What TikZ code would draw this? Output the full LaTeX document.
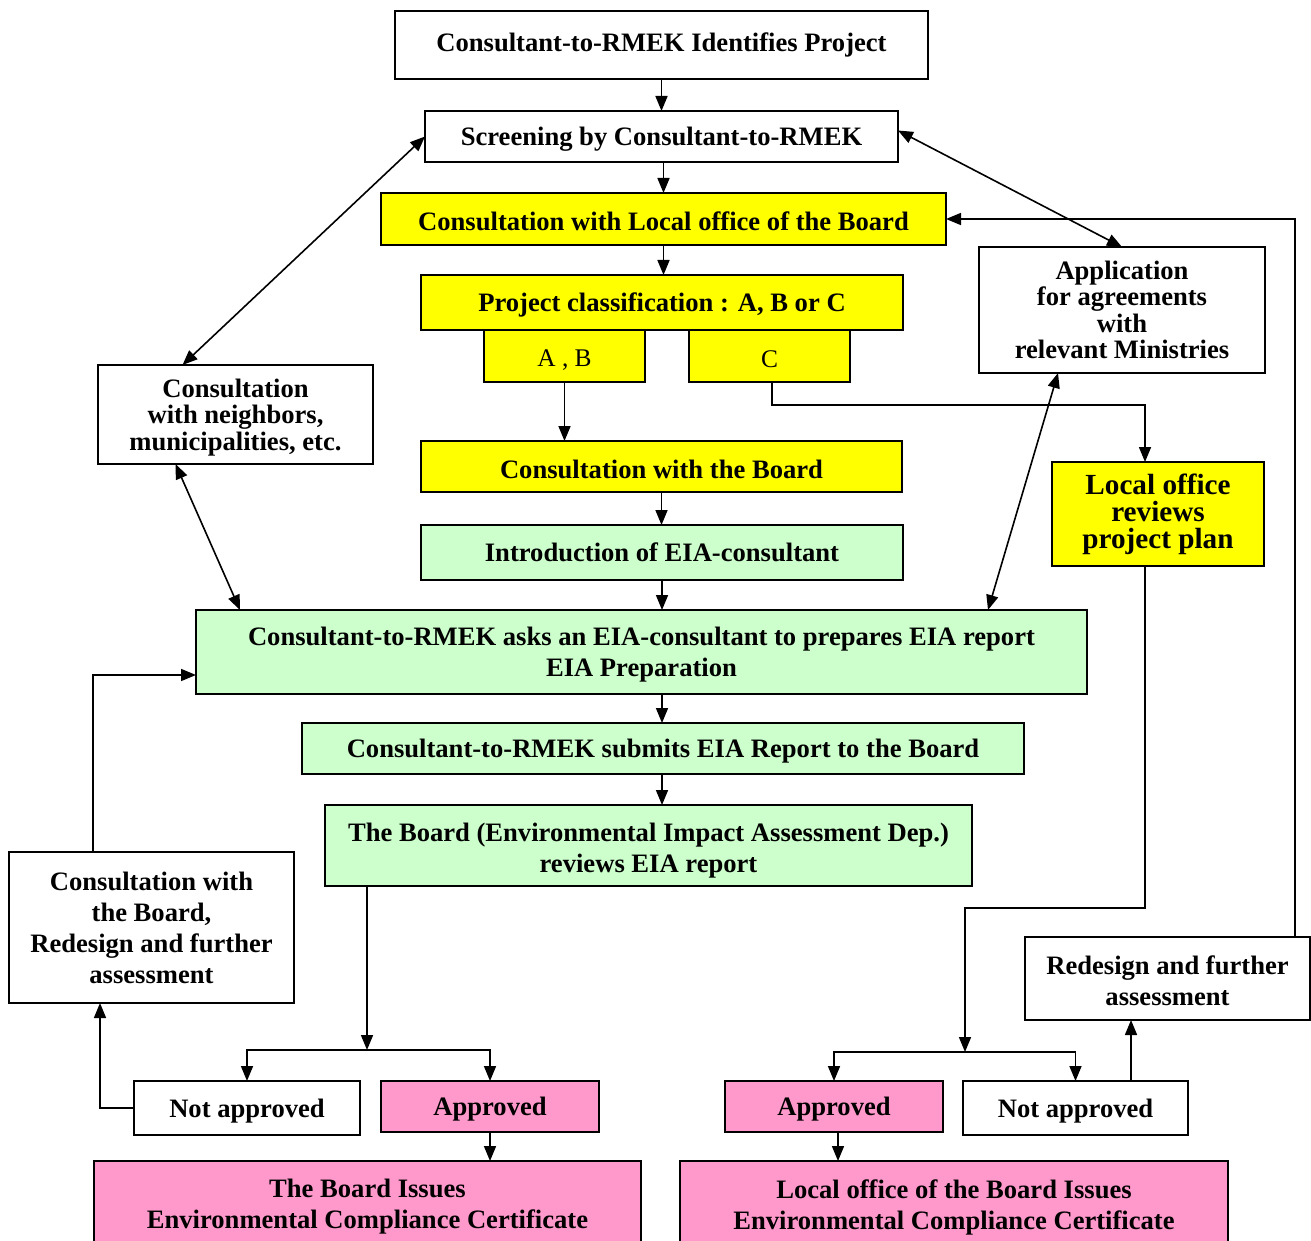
\documentclass[tikz,border=0pt]{standalone}
\usepackage{fontspec}
\setmainfont{Liberation Serif}
\usetikzlibrary{arrows.meta,calc}
\definecolor{yel}{HTML}{FFFF00}
\definecolor{grn}{HTML}{CCFFCC}
\definecolor{pnk}{HTML}{FF99CC}
\newcommand\myup[1]{\rule{0pt}{#1pt}}
\tikzset{
  box/.style={draw=black,line width=0.9pt,inner sep=0pt,outer sep=0pt,align=center,
    font=\fontsize{13.3}{15.5}\selectfont\bfseries},
  wh/.style 2 args={minimum width=#1*0.5pt,minimum height=#2*0.5pt},
  lower/.style={execute at begin node={\rule{0pt}{12pt}}},
  ybox/.style={box,fill=yel},
  gbox/.style={box,fill=grn},
  pbox/.style={box,fill=pnk},
  arr/.style={line width=0.8pt,-{Triangle[length=7.5pt,width=6pt]}},
  darr/.style={line width=0.8pt,{Triangle[length=7.5pt,width=6pt]}-{Triangle[length=7.5pt,width=6pt]}}
}
\begin{document}
\begin{tikzpicture}[x=0.5pt,y=-0.5pt]
\useasboundingbox[fill=white] (0,0) rectangle (1311,1241);
\node[box,wh={533}{68}] (top) at (661.5,45) {Consultant-to-RMEK Identifies Project};
\node[box,lower,wh={473}{51}] (scr) at (661.5,136.5) {Screening by Consultant-to-RMEK};
\node[ybox,lower,wh={565}{52}] (loc) at (663.5,219) {Consultation with Local office of the Board};
\node[ybox,lower,wh={482}{55}] (cls) at (662,302.5) {Project classification : A, B or C};
\node[ybox,lower,wh={161}{52},font=\fontsize{12.7}{15.5}\selectfont] (ab) at (564.5,356) {A , B};
\node[ybox,lower,wh={161}{52},font=\fontsize{12.7}{15.5}\selectfont] (c) at (769.5,356) {C};
\node[ybox,lower,wh={481}{51}] (cb) at (661.5,466.5) {Consultation with the Board};
\node[gbox,wh={482}{55}] (intro) at (662,552.5) {Introduction of EIA-consultant};
\node[gbox,wh={891}{84}] (asks) at (641.5,652) {\myup{12}Consultant-to-RMEK asks an EIA-consultant to prepares EIA report\\EIA Preparation};
\node[gbox,lower,wh={722}{51}] (sub) at (663,748.5) {Consultant-to-RMEK submits EIA Report to the Board};
\node[gbox,wh={647}{81}] (rev) at (648.5,845.5) {\myup{14}The Board (Environmental Impact Assessment Dep.)\\reviews EIA report};
\node[box,wh={275}{99},font=\fontsize{13.3}{13.3}\selectfont\bfseries] (nb) at (235.5,414.5) {\myup{12}Consultation\\with neighbors,\\municipalities, etc.};
\node[box,wh={286}{126},font=\fontsize{13.3}{13.3}\selectfont\bfseries] (app) at (1122,310) {Application\\for agreements\\with\\relevant Ministries};
\node[ybox,wh={212}{104},font=\fontsize{14.6}{13.5}\selectfont\bfseries] (lrev) at (1158,514) {Local office\\reviews\\project plan};
\node[box,wh={285}{151}] (cbr) at (151.5,927.5) {Consultation with\\the Board,\\Redesign and further\\assessment};
\node[box,wh={285}{83}] (red) at (1167.5,978.5) {\myup{12}Redesign and further\\assessment};
\node[box,lower,wh={226}{54}] (na1) at (247,1108) {Not approved};
\node[pbox,lower,wh={218}{51}] (ap1) at (490,1106.5) {Approved};
\node[pbox,wh={547}{92},anchor=north] (iss1) at (367.5,1161) {The Board Issues\\Environmental Compliance Certificate};
\node[pbox,lower,wh={218}{51}] (ap2) at (834,1106.5) {Approved};
\node[box,lower,wh={225}{54}] (na2) at (1075.5,1108) {Not approved};
\node[pbox,wh={548}{92},anchor=north] (iss2) at (954,1161) {Local office of the Board Issues\\Environmental Compliance Certificate};
% junctions
\coordinate (j1) at (367,1050);
\coordinate (k) at (965,908);
\coordinate (j2) at (965,1052);
% main flow
\draw[arr] (top.south) -- (scr.north);
\draw[arr] (scr.south -| loc.north) -- (loc.north);
\draw[arr] (loc.south) -- (loc.south |- cls.north);
\draw[arr] (ab.south) -- (ab.south |- cb.north);
\draw[arr] ($(c.south)+(2.5,0)$) |- ($(c.south)+(100,23)$) -| ($(lrev.north)+(-13,0)$);
\draw[arr] (cb.south) -- (cb.south |- intro.north);
\draw[arr] (intro.south) -- (intro.south |- asks.north);
\draw[arr] (asks.south -| intro.south) -- (intro.south |- sub.north);
\draw[arr] (sub.south -| intro.south) -- (intro.south |- rev.north);
% left branch
\draw[arr] ($(rev.south west)+(42,0)$) -- (j1);
\draw[arr] (j1) -| (na1.north);
\draw[arr] (j1) -| (ap1.north);
\draw[arr] (na1.west) -| ($(cbr.south)+(-51.5,0)$);
\draw[arr] ($(cbr.north)+(-58.5,0)$) |- ($(asks.west)+(0,23)$);
\draw[arr] (ap1.south) -- (ap1.south |- iss1.north);
% right branch
\draw[arr] ($(lrev.south)+(-13,0)$) |- (k) -- (j2);
\draw[arr] (j2) -| (ap2.north);
\draw[arr] (j2) -| (na2.north);
\draw[arr] ($(na2.north)+(55.5,0)$) coordinate (t) -- (t |- red.south);
\draw[arr] ($(red.north)+(127.5,0)$) |- (loc.east);
\draw[arr] ($(ap2.south)+(4,0)$) coordinate (t2) -- (t2 |- iss2.north);
% double arrows
\draw[darr] (scr.west) -- ($(nb.north)+(-53,0)$);
\draw[darr] ($(nb.south)+(-60,0)$) -- ($(asks.north west)+(44,0)$);
\draw[darr] ($(scr.east)+(0,-6)$) -- (app.north);
\draw[darr] ($(app.south)+(-64,0)$) -- ($(asks.north east)+(-99,0)$);
\end{tikzpicture}
\end{document}
